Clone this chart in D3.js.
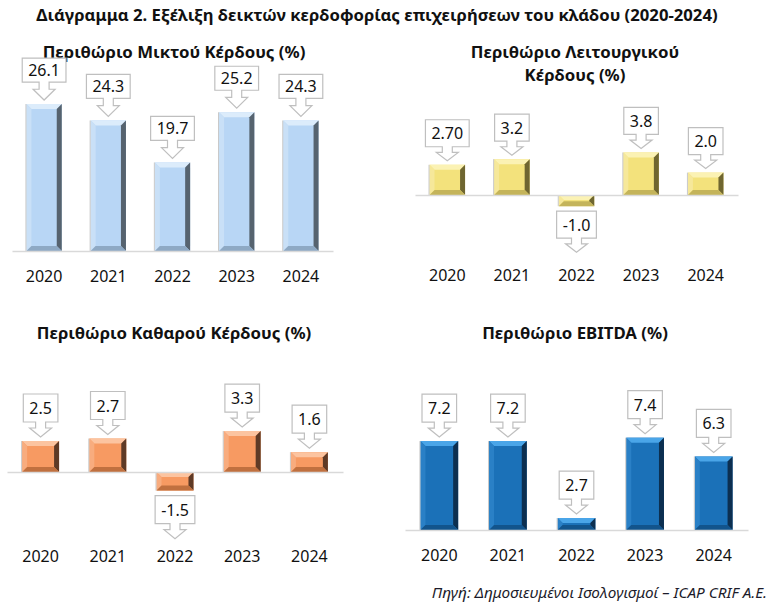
<!DOCTYPE html>
<html>
<head>
<meta charset="utf-8">
<script src="https://cdn.jsdelivr.net/npm/d3@7"></script>
<style>
  body { margin: 0; background: #fff; }
  svg text { font-family: "Noto Sans", "Open Sans", sans-serif; fill: #111; }
</style>
</head>
<body>
<div id="chart"></div>
<script>
// data
const years = ["2020", "2021", "2022", "2023", "2024"];
const grossMargin = [26.1, 24.3, 19.7, 25.2, 24.3];
const operatingMargin = [2.7, 3.2, -1.0, 3.8, 2.0];
const operatingLabels = ["2.70", "3.2", "-1.0", "3.8", "2.0"];
const netMargin = [2.5, 2.7, -1.5, 3.3, 1.6];
const ebitdaMargin = [7.2, 7.2, 2.7, 7.4, 6.3];

const width = 782;
const height = 613;

const svg = d3.select("#chart")
  .append("svg")
  .attr("width", width)
  .attr("height", height);

// one decimal, plain hyphen for negatives like the original
const fmt = v => v.toFixed(1);

const panels = [
  {
    title: ["Περιθώριο Μικτού Κέρδους (%)"], titleX: 174, titleY: [58],
    values: grossMargin, labels: grossMargin.map(fmt),
    xRange: [12, 333], yDomain: [10, 28], yRange: [251, 86.7], base: 10, yearY: 282,
    colors: { main: "#b8d6f5", top: "#dcecfb", left: "#c9e0f7", right: "#56636f", bottom: "#8ea9c4" },
    boxH: 24, arrow: 18
  },
  {
    title: ["Περιθώριο Λειτουργικού", "Κέρδους (%)"], titleX: 575, titleY: [58, 81],
    values: operatingMargin, labels: operatingLabels,
    xRange: [415, 738], yDomain: [-2, 5], yRange: [217.4, 139], base: 0, yearY: 281,
    colors: { main: "#f3e27c", top: "#fbf2b4", left: "#f6e89a", right: "#6f6630", bottom: "#c4b45a" },
    boxH: 27, arrow: 14
  },
  {
    title: ["Περιθώριο Καθαρού Κέρδους (%)"], titleX: 174, titleY: [339],
    values: netMargin, labels: netMargin.map(fmt),
    xRange: [7, 343], yDomain: [-2, 4], yRange: [496.8, 422.4], base: 0, yearY: 562,
    colors: { main: "#f79a62", top: "#fcc4a0", left: "#f8ac7e", right: "#5e3a26", bottom: "#c0703f" },
    boxH: 28, arrow: 15
  },
  {
    title: ["Περιθώριο EBITDA (%)"], titleX: 575, titleY: [339],
    values: ebitdaMargin, labels: ebitdaMargin.map(fmt),
    xRange: [405, 748], yDomain: [2, 9], yRange: [530, 410.3], base: 2, yearY: 561,
    colors: { main: "#1b71b8", top: "#4aa5e8", left: "#2a80c6", right: "#0c2f50", bottom: "#12548c" },
    boxH: 28, arrow: 15
  }
];

// main title
svg.append("text")
  .attr("x", 377)
  .attr("y", 21)
  .attr("text-anchor", "middle")
  .style("font-size", "16.7px")
  .style("font-weight", "bold")
  .text("Διάγραμμα 2. Εξέλιξη δεικτών κερδοφορίας επιχειρήσεων του κλάδου (2020-2024)");

// source note
svg.append("text")
  .attr("x", 767)
  .attr("y", 598)
  .attr("text-anchor", "end")
  .style("font-size", "15.3px")
  .style("font-style", "italic")
  .style("fill", "#1b1b2a")
  .text("Πηγή: Δημοσιευμένοι Ισολογισμοί – ICAP CRIF A.E.");

function bevelBar(g, x, y, w, h, c) {
  const b = Math.min(5, h / 2.2);
  const pts = arr => arr.map(p => p.join(",")).join(" ");
  g.append("rect").attr("x", x).attr("y", y).attr("width", w).attr("height", h).attr("fill", c.main);
  g.append("polygon").attr("points", pts([[x, y], [x + w, y], [x + w - b, y + b], [x + b, y + b]])).attr("fill", c.top);
  g.append("polygon").attr("points", pts([[x, y], [x + b, y + b], [x + b, y + h - b], [x, y + h]])).attr("fill", c.left);
  g.append("polygon").attr("points", pts([[x + w, y], [x + w, y + h], [x + w - b, y + h - b], [x + w - b, y + b]])).attr("fill", c.right);
  g.append("polygon").attr("points", pts([[x, y + h], [x + w, y + h], [x + w - b, y + h - b], [x + b, y + h - b]])).attr("fill", c.bottom);
  g.append("line").attr("x1", x - 0.5).attr("x2", x - 0.5).attr("y1", y).attr("y2", y + h)
    .attr("stroke", "#c8c8c8").attr("stroke-width", 1);
}

// box with a down-pointing arrow under it
function calloutPath(cx, top, bw, bh, arrowH) {
  const stemW = 10, headW = 22, stemH = arrowH * 0.4, headH = arrowH * 0.6;
  const l = cx - bw / 2, r = cx + bw / 2, bot = top + bh;
  return [
    [l, top], [r, top], [r, bot],
    [cx + stemW / 2, bot], [cx + stemW / 2, bot + stemH], [cx + headW / 2, bot + stemH],
    [cx, bot + stemH + headH],
    [cx - headW / 2, bot + stemH], [cx - stemW / 2, bot + stemH], [cx - stemW / 2, bot],
    [l, bot]
  ].map((p, i) => (i ? "L" : "M") + p[0] + "," + p[1]).join("") + "Z";
}

panels.forEach(p => {
  const g = svg.append("g");

  const x = d3.scaleBand()
    .domain(years)
    .range(p.xRange)
    .paddingInner(0.45)
    .paddingOuter(0.225);

  const y = d3.scaleLinear()
    .domain(p.yDomain)
    .range(p.yRange);

  const baseY = y(p.base);

  // title
  p.title.forEach((t, i) => {
    g.append("text")
      .attr("x", p.titleX)
      .attr("y", p.titleY[i])
      .attr("text-anchor", "middle")
      .style("font-size", "16.8px")
      .style("font-weight", "bold")
      .text(t);
  });

  // bars
  p.values.forEach((v, i) => {
    const top = Math.min(y(v), baseY);
    const h = Math.abs(y(v) - baseY);
    bevelBar(g.append("g"), x(years[i]), top, x.bandwidth(), h, p.colors);
  });

  // axis
  const axis = g.append("g")
    .attr("transform", `translate(0,${baseY})`)
    .call(d3.axisBottom(x).tickSize(0).tickSizeOuter(0).tickPadding(p.yearY - baseY - 16 * 0.71));
  axis.select(".domain").attr("stroke", "#d9d9d9").attr("stroke-width", 1.5);
  axis.selectAll("text")
    .style("font-size", "16px")
    .style("font-family", "\"Noto Sans\", sans-serif")
    .attr("fill", "#111");

  // callouts
  p.values.forEach((v, i) => {
    const cx = x(years[i]) + x.bandwidth() / 2;
    const c = g.append("g");
    const path = c.append("path")
      .attr("fill", "#fff")
      .attr("stroke", "#bfbfbf")
      .attr("stroke-width", 1.2);
    const txt = c.append("text")
      .attr("x", cx)
      .attr("text-anchor", "middle")
      .style("font-size", "16px")
      .text(p.labels[i]);
    const bw = txt.node().getComputedTextLength() + 12;
    const bh = p.boxH;
    let top;
    if (v >= 0) {
      top = y(v) - 4 - p.arrow - bh;
    } else {
      top = y(v) + 5;
    }
    path.attr("d", calloutPath(cx, top, bw, bh, p.arrow));
    txt.attr("y", top + bh / 2 + 6);
  });
});
</script>
</body>
</html>
